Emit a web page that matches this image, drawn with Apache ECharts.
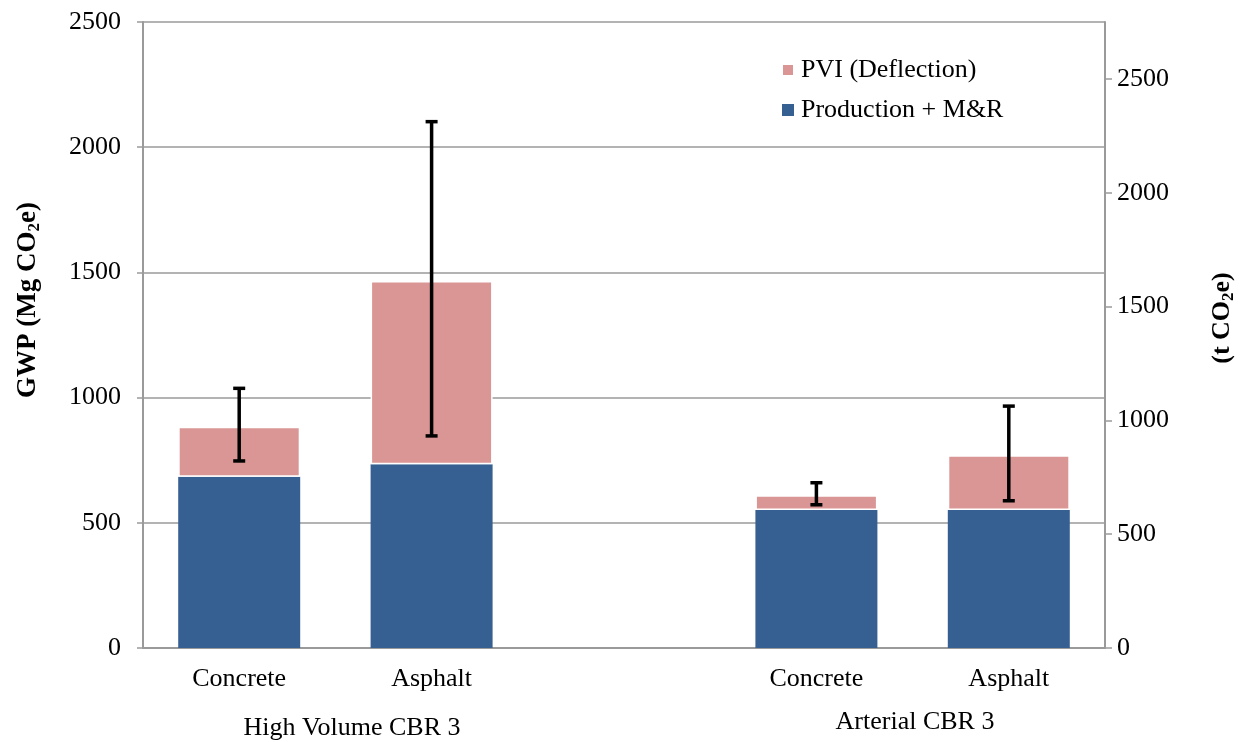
<!DOCTYPE html>
<html>
<head>
<meta charset="utf-8">
<script src="https://cdn.jsdelivr.net/npm/echarts@6/dist/echarts.min.js"></script>
<style>
html,body{margin:0;padding:0;background:#fff;}
#chart{width:1242px;height:742px;}
</style>
</head>
<body>
<div id="chart"></div>
<script>
var categories = ['Concrete', 'Asphalt', '', 'Concrete', 'Asphalt'];
var groupLabels = ['High Volume CBR 3', 'Arterial CBR 3'];
var production = [684, 734, null, 551, 551];
var pvi = [200, 732, null, 59, 219];
var errLow = [747, 847, null, 572, 588];
var errHigh = [1037, 2102, null, 660, 966];
var leftTicks = [0, 500, 1000, 1500, 2000, 2500];
var rightTicks = [0, 500, 1000, 1500, 2000, 2500];

var FONT = "'Liberation Serif', 'Times New Roman', serif";
var GRAY = '#9a9a9a';

var errData = [];
for (var i = 0; i < categories.length; i++) {
  if (errLow[i] != null) errData.push([i, errLow[i], errHigh[i]]);
}
function plain(v) { return String(v); }

function nameRich(size) {
  return {
    b: {fontFamily: FONT, fontSize: size, fontWeight: 'bold', fill: '#000', color: '#000', lineHeight: 30, verticalAlign: 'middle'},
    s: {fontFamily: FONT, fontSize: 17, fontWeight: 'bold', fill: '#000', color: '#000', lineHeight: 14, verticalAlign: 'bottom'}
  };
}

var chart = echarts.init(document.getElementById('chart'), null, {renderer: 'canvas'});
chart.setOption({
  animation: false,
  backgroundColor: '#fff',
  grid: {left: 143, right: 137, top: 22, bottom: 94, containLabel: false, outerBoundsMode: 'none'},
  legend: {
    orient: 'vertical',
    left: 776, top: 52,
    itemWidth: 12, itemHeight: 12, itemGap: 14,
    icon: 'rect',
    data: ['PVI (Deflection)', 'Production + M&R'],
    textStyle: {fontFamily: FONT, fontSize: 26, color: '#000', padding: [0, 0, 0, 2]}
  },
  xAxis: {
    type: 'category',
    data: categories,
    axisLine: {lineStyle: {color: GRAY, width: 2}},
    axisTick: {show: false},
    axisLabel: {fontFamily: FONT, fontSize: 26, color: '#000', margin: 18, interval: 0},
    splitLine: {show: false}
  },
  yAxis: [{
    type: 'value', min: 0, max: 2500, interval: 500,
    position: 'left',
    axisLine: {show: true, lineStyle: {color: GRAY, width: 2}},
    axisTick: {show: true, length: 6, lineStyle: {color: GRAY, width: 1.5}, customValues: leftTicks},
    axisLabel: {fontFamily: FONT, fontSize: 26, color: '#000', margin: 22, customValues: leftTicks, formatter: plain},
    splitLine: {show: true, lineStyle: {color: GRAY, width: 1.5}}
  }, {
    type: 'value', min: 0, max: 2750, interval: 500,
    position: 'right',
    axisLine: {show: true, lineStyle: {color: GRAY, width: 2}},
    axisTick: {show: true, length: 7, lineStyle: {color: GRAY, width: 1.5}, customValues: rightTicks},
    axisLabel: {fontFamily: FONT, fontSize: 26, color: '#000', margin: 12, customValues: rightTicks, formatter: plain},
    splitLine: {show: false}
  }],
  series: [{
    name: 'Production + M&R',
    type: 'bar', stack: 'gwp',
    barWidth: 122,
    data: production,
    itemStyle: {color: '#376092'}
  }, {
    name: 'PVI (Deflection)',
    type: 'bar', stack: 'gwp',
    barWidth: 122,
    data: pvi,
    itemStyle: {color: '#D99694', borderColor: '#ffffff', borderWidth: 1.5}
  }, {
    name: 'err',
    type: 'custom',
    data: errData,
    z: 10,
    encode: {x: 0, y: [1, 2]},
    renderItem: function (params, api) {
      var x = api.value(0);
      var lo = api.coord([x, api.value(1)]);
      var hi = api.coord([x, api.value(2)]);
      var hw = 6;
      var st = {stroke: '#000', lineWidth: 3.5};
      return {
        type: 'group',
        children: [
          {type: 'line', shape: {x1: lo[0], y1: lo[1], x2: hi[0], y2: hi[1]}, style: st},
          {type: 'line', shape: {x1: lo[0] - hw, y1: lo[1], x2: lo[0] + hw, y2: lo[1]}, style: st},
          {type: 'line', shape: {x1: hi[0] - hw, y1: hi[1], x2: hi[0] + hw, y2: hi[1]}, style: st}
        ]
      };
    }
  }],
  graphic: [
    {type: 'text', x: 352, y: 728, style: {text: groupLabels[0], fontFamily: FONT, fontSize: 26, fill: '#000', align: 'center', verticalAlign: 'middle'}},
    {type: 'text', x: 915, y: 722, style: {text: groupLabels[1], fontFamily: FONT, fontSize: 26, fill: '#000', align: 'center', verticalAlign: 'middle'}},
    {type: 'text', x: 28, y: 300, rotation: Math.PI / 2,
      style: {text: '{b|GWP (Mg CO}{s|2}{b|e)}', align: 'center', verticalAlign: 'middle', rich: nameRich(27)}},
    {type: 'text', x: 1222, y: 318, rotation: Math.PI / 2,
      style: {text: '{b|(t CO}{s|2}{b|e)}', align: 'center', verticalAlign: 'middle', rich: nameRich(26)}}
  ]
});
</script>
</body>
</html>
